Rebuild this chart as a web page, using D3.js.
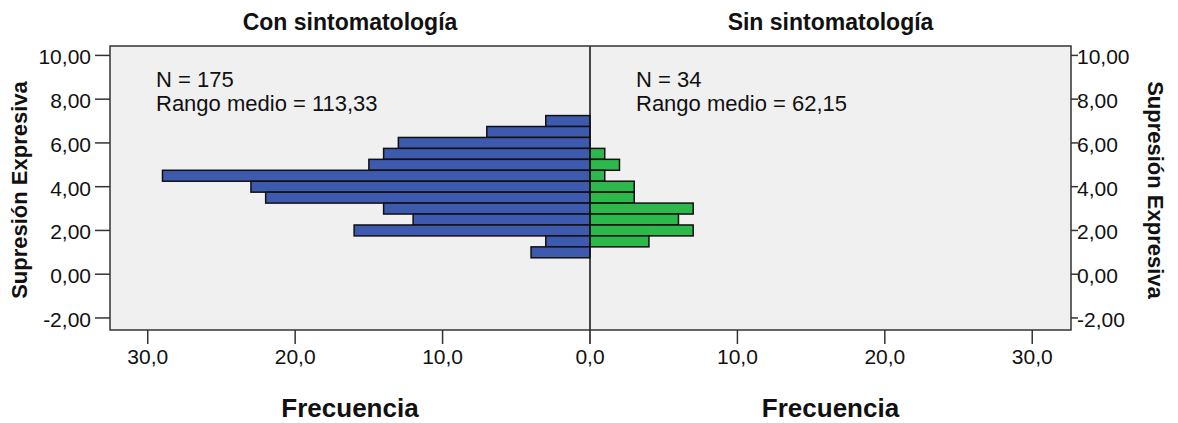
<!DOCTYPE html>
<html>
<head>
<meta charset="utf-8">
<script src="https://cdn.jsdelivr.net/npm/d3@7"></script>
<style>
  html, body { margin: 0; padding: 0; background: #ffffff; }
  svg { display: block; }
  text { font-family: "Liberation Sans", Arial, sans-serif; fill: #111; }
</style>
</head>
<body>
<svg id="chart" width="1178" height="423"></svg>
<script>
// Bin midpoints of "Supresión Expresiva" (bin width 0.5), top to bottom
const binCenters = [7.0, 6.5, 6.0, 5.5, 5.0, 4.5, 4.0, 3.5, 3.0, 2.5, 2.0, 1.5, 1.0];
// Frequencies per bin for each group
const conSintomatologia = [3, 7, 13, 14, 15, 29, 23, 22, 14, 12, 16, 3, 4];
const sinSintomatologia = [0, 0, 0, 1, 2, 1, 3, 3, 7, 6, 7, 4, 0];
const binWidth = 0.5;

const groupTitles = ["Con sintomatología", "Sin sintomatología"];
const groupStats = [
  ["N = 175", "Rango medio = 113,33"],
  ["N = 34", "Rango medio = 62,15"]
];
const yTicks = [-2, 0, 2, 4, 6, 8, 10];
const xTicks = [0, 10, 20, 30];
const yLabel = "Supresión Expresiva";
const xLabel = "Frecuencia";

// Spanish number formatting: comma decimals, plain hyphen minus
const locale = d3.formatLocale({ decimal: ",", thousands: ".", grouping: [3], currency: ["", " €"], minus: "-" });
const fmtY = locale.format(".2f");
const fmtX = locale.format(".1f");

const svg = d3.select("#chart");

const frame = { left: 110, right: 1071, top: 46, bottom: 330 };
const mid = 590;

const y = d3.scaleLinear().domain([-2.55, 10.43]).range([frame.bottom, frame.top]);
const xLeft = d3.scaleLinear().domain([0, 32.56]).range([mid, frame.left]);
const xRight = d3.scaleLinear().domain([0, 32.63]).range([mid, frame.right]);

// plot background
svg.append("rect")
  .attr("x", frame.left).attr("y", frame.top)
  .attr("width", frame.right - frame.left).attr("height", frame.bottom - frame.top)
  .attr("fill", "#f0f0f0");

const rows = binCenters.map((c, i) => ({ c, a: conSintomatologia[i], b: sinSintomatologia[i] }));

// left group bars
svg.append("g").selectAll("rect")
  .data(rows.filter(d => d.a > 0))
  .join("rect")
  .attr("x", d => xLeft(d.a))
  .attr("y", d => y(d.c + binWidth / 2))
  .attr("width", d => mid - xLeft(d.a))
  .attr("height", d => y(d.c - binWidth / 2) - y(d.c + binWidth / 2))
  .attr("fill", "#3d5aae")
  .attr("stroke", "#111")
  .attr("stroke-width", 1.5);

// right group bars
svg.append("g").selectAll("rect")
  .data(rows.filter(d => d.b > 0))
  .join("rect")
  .attr("x", mid)
  .attr("y", d => y(d.c + binWidth / 2))
  .attr("width", d => xRight(d.b) - mid)
  .attr("height", d => y(d.c - binWidth / 2) - y(d.c + binWidth / 2))
  .attr("fill", "#2db84c")
  .attr("stroke", "#111")
  .attr("stroke-width", 1.5);

// center divider
svg.append("line")
  .attr("x1", mid).attr("x2", mid)
  .attr("y1", frame.top).attr("y2", frame.bottom + 14)
  .attr("stroke", "#111").attr("stroke-width", 1.5);

// frame
svg.append("rect")
  .attr("x", frame.left).attr("y", frame.top)
  .attr("width", frame.right - frame.left).attr("height", frame.bottom - frame.top)
  .attr("fill", "none").attr("stroke", "#333").attr("stroke-width", 1.5);

// left y axis
const gyl = svg.append("g");
gyl.selectAll("line").data(yTicks).join("line")
  .attr("x1", frame.left - 15).attr("x2", frame.left)
  .attr("y1", d => y(d)).attr("y2", d => y(d))
  .attr("stroke", "#333").attr("stroke-width", 1.5);
gyl.selectAll("text").data(yTicks).join("text")
  .attr("x", frame.left - 19).attr("y", d => y(d) + 9)
  .attr("text-anchor", "end").attr("font-size", 21)
  .text(d => fmtY(d));

// right y axis
const gyr = svg.append("g");
gyr.selectAll("line").data(yTicks).join("line")
  .attr("x1", frame.right).attr("x2", frame.right + 7)
  .attr("y1", d => y(d)).attr("y2", d => y(d))
  .attr("stroke", "#333").attr("stroke-width", 1.5);
gyr.selectAll("text").data(yTicks).join("text")
  .attr("x", frame.right + 6).attr("y", d => y(d) + 9)
  .attr("text-anchor", "start").attr("font-size", 21)
  .text(d => fmtY(d));

// bottom axes
const gxl = svg.append("g");
const xlTicks = xTicks.filter(d => d > 0);
gxl.selectAll("line").data(xlTicks).join("line")
  .attr("x1", d => xLeft(d)).attr("x2", d => xLeft(d))
  .attr("y1", frame.bottom).attr("y2", frame.bottom + 14)
  .attr("stroke", "#333").attr("stroke-width", 1.5);
gxl.selectAll("text").data(xTicks).join("text")
  .attr("x", d => xLeft(d)).attr("y", frame.bottom + 34)
  .attr("text-anchor", "middle").attr("font-size", 21)
  .text(d => fmtX(d));

const gxr = svg.append("g");
gxr.selectAll("line").data(xlTicks).join("line")
  .attr("x1", d => xRight(d)).attr("x2", d => xRight(d))
  .attr("y1", frame.bottom).attr("y2", frame.bottom + 14)
  .attr("stroke", "#333").attr("stroke-width", 1.5);
gxr.selectAll("text").data(xlTicks).join("text")
  .attr("x", d => xRight(d)).attr("y", frame.bottom + 34)
  .attr("text-anchor", "middle").attr("font-size", 21)
  .text(d => fmtX(d));

// group titles, axis titles and stats
const halfCenters = [(frame.left + mid) / 2, (mid + frame.right) / 2];
const halfStarts = [frame.left, mid];
groupTitles.forEach((t, i) => {
  svg.append("text")
    .attr("x", halfCenters[i]).attr("y", 30)
    .attr("text-anchor", "middle").attr("font-size", 23).attr("font-weight", "bold")
    .text(t);
  svg.append("text")
    .attr("x", halfCenters[i]).attr("y", 417)
    .attr("text-anchor", "middle").attr("font-size", 26).attr("font-weight", "bold")
    .text(xLabel);
  groupStats[i].forEach((s, j) => {
    svg.append("text")
      .attr("x", halfStarts[i] + 46).attr("y", 87 + j * 24)
      .attr("font-size", 22)
      .text(s);
  });
});

// y axis titles
svg.append("text")
  .attr("transform", "translate(27,190) rotate(-90)")
  .attr("text-anchor", "middle").attr("font-size", 22).attr("font-weight", "bold")
  .text(yLabel);
svg.append("text")
  .attr("transform", "translate(1148,190) rotate(90)")
  .attr("text-anchor", "middle").attr("font-size", 22).attr("font-weight", "bold")
  .text(yLabel);
</script>
</body>
</html>
